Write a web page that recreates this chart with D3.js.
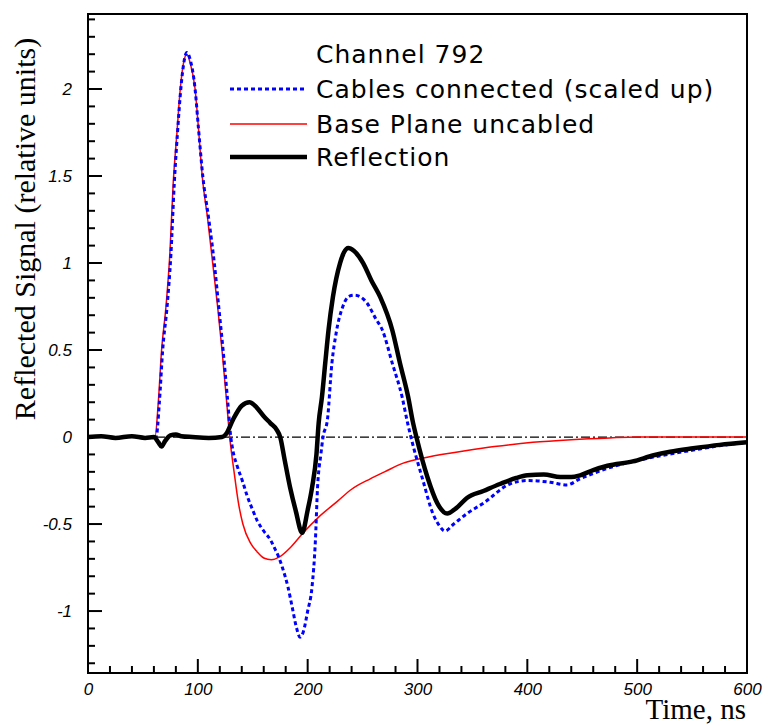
<!DOCTYPE html>
<html>
<head>
<meta charset="utf-8">
<script src="https://cdn.jsdelivr.net/npm/d3@7"></script>
<style>
  html, body { margin: 0; padding: 0; background: #fff; }
  svg { display: block; }
</style>
</head>
<body>
<div id="chart"></div>
<script>
// Channel 792 - reflected signal vs time (ns)

const xMajorTicks = [0, 100, 200, 300, 400, 500, 600];
const yMajorTicks = [-1, -0.5, 0, 0.5, 1, 1.5, 2];

const legendTitle = 'Channel 792';
const seriesNames = ['Cables connected (scaled up)', 'Base Plane uncabled', 'Reflection'];

// [time ns, signal]
const baseUncabled = [
  [0, 0], [30, 0], [61, 0], [64, 0.2], [67, 0.5], [71, 0.75], [74.5, 1.05], [77.5, 1.45],
  [81, 1.75], [84, 2.0], [87, 2.15], [90, 2.2], [93, 2.15], [97.5, 2.0], [100.5, 1.78],
  [104, 1.5], [109, 1.25], [113.5, 1.0], [118, 0.75], [122, 0.5], [126, 0.22], [129, 0],
  [133, -0.2], [137, -0.38], [141, -0.5], [148, -0.61], [154, -0.66], [160, -0.695],
  [167, -0.705], [174, -0.69], [185, -0.63], [196, -0.55], [210, -0.46], [227, -0.37],
  [240, -0.30], [257, -0.24], [270, -0.20], [287, -0.15], [310, -0.115], [345, -0.078],
  [370, -0.055], [405, -0.03], [440, -0.015], [475, -0.005], [500, 0], [600, 0]
];

const cablesConnected = [
  [60, 0], [62, 0], [65, 0.2], [68, 0.5], [72, 0.75], [75.5, 1.05], [78.5, 1.45],
  [81.5, 1.75], [84.5, 2.0], [87.5, 2.16], [90, 2.21], [93, 2.17], [97.5, 2.0],
  [100.5, 1.78], [104.5, 1.5], [110, 1.25], [115, 1.0], [119, 0.75], [123, 0.5],
  [127, 0.22], [130, 0], [132, -0.08], [136, -0.17], [141, -0.26], [145, -0.34],
  [150, -0.42], [154, -0.48], [160, -0.54], [166, -0.59], [170, -0.64], [173, -0.68],
  [177, -0.75], [182, -0.86], [186, -0.98], [190, -1.10], [193, -1.15], [196, -1.12],
  [200, -1.0], [204, -0.86], [207, -0.6], [209, -0.29], [212, -0.1], [214, 0],
  [218, 0.1], [222, 0.42], [226, 0.6], [232, 0.75], [238, 0.81], [243, 0.815],
  [254, 0.77], [262, 0.68], [268, 0.615], [277, 0.425], [286, 0.23], [291, 0.08],
  [294, 0], [305, -0.25], [314, -0.44], [320, -0.51], [325, -0.54], [333, -0.5],
  [345, -0.44], [360, -0.38], [384, -0.27], [400, -0.25], [421, -0.26], [436, -0.275],
  [448, -0.24], [473, -0.18], [496, -0.14], [515, -0.115], [551, -0.075], [575, -0.05],
  [600, -0.03]
];

const reflection = [
  [0, 0], [12, 0.005], [25, -0.005], [40, 0.005], [52, -0.005], [60, 0], [64, -0.03],
  [67, -0.055], [70, -0.025], [75, 0.01], [80, 0.015], [85, 0.005], [95, 0], [110, -0.005],
  [122, 0], [126, 0.02], [132, 0.1], [140, 0.18], [147, 0.2], [152, 0.18], [160, 0.12],
  [166, 0.08], [172, 0.04], [175, 0], [179, -0.13], [184, -0.29], [189, -0.42],
  [195, -0.55], [200, -0.42], [204, -0.29], [208, -0.1], [210, 0.08], [213, 0.23],
  [216, 0.425], [219, 0.615], [223, 0.805], [229.5, 1.0], [233, 1.06], [237, 1.086],
  [242, 1.07], [250.5, 1.0], [258, 0.9], [266, 0.805], [277, 0.615], [284, 0.425],
  [291.5, 0.23], [296, 0.08], [299, 0], [309, -0.23], [318, -0.38], [327, -0.44],
  [335, -0.41], [345, -0.35], [360, -0.31], [375, -0.27], [390, -0.235], [400, -0.22],
  [415, -0.215], [430, -0.23], [440, -0.23], [448, -0.22], [460, -0.19], [473, -0.165],
  [496, -0.14], [515, -0.105], [530, -0.085], [551, -0.065], [575, -0.045], [600, -0.03]
];

const width = 766;
const height = 725;
const margin = {top: 14, right: 19, bottom: 52, left: 88};

const svg = d3.select('#chart').append('svg')
  .attr('width', width)
  .attr('height', height);

const x = d3.scaleLinear().domain([0, 600]).range([margin.left, width - margin.right]);
const y = d3.scaleLinear().domain([-1.356, 2.431]).range([height - margin.bottom, margin.top]);

const line = d3.line()
  .curve(d3.curveMonotoneX)
  .x(function(d) { return x(d[0]); })
  .y(function(d) { return y(d[1]); });

// zero reference line
svg.append('path')
  .datum([[0, 0], [600, 0]])
  .attr('d', line)
  .attr('fill', 'none')
  .attr('stroke', '#000')
  .attr('stroke-width', 1.2)
  .attr('stroke-dasharray', '9,3,2,3');

svg.append('path')
  .datum(baseUncabled)
  .attr('d', line)
  .attr('fill', 'none')
  .attr('stroke', '#ff0000')
  .attr('stroke-width', 1.5);

svg.append('path')
  .datum(cablesConnected)
  .attr('d', line)
  .attr('fill', 'none')
  .attr('stroke', '#0000ff')
  .attr('stroke-width', 3)
  .attr('stroke-dasharray', '4,3');

svg.append('path')
  .datum(reflection)
  .attr('d', line)
  .attr('fill', 'none')
  .attr('stroke', '#000')
  .attr('stroke-width', 4.5)
  .attr('stroke-linejoin', 'round');

const fmt = function(d) { return String(d); };
const isMajorX = function(d) { return Math.abs(d % 100) < 1e-9; };
const isMajorY = function(d) { return Math.abs(d * 2 - Math.round(d * 2)) < 1e-9; };

const x0 = x(0);
const y0 = y(-1.356);

// tick marks (inside the frame)
svg.append('g').selectAll('line')
  .data(x.ticks(30))
  .join('line')
  .attr('x1', function(d) { return x(d); })
  .attr('x2', function(d) { return x(d); })
  .attr('y1', y0)
  .attr('y2', function(d) { return y0 - (isMajorX(d) ? 14 : 7); })
  .attr('stroke', '#000')
  .attr('stroke-width', 2);

svg.append('g').selectAll('line')
  .data(y.ticks(40))
  .join('line')
  .attr('y1', function(d) { return y(d); })
  .attr('y2', function(d) { return y(d); })
  .attr('x1', x0)
  .attr('x2', function(d) { return x0 + (isMajorY(d) ? 14 : 7); })
  .attr('stroke', '#000')
  .attr('stroke-width', 2);

// tick labels
const xAxis = d3.axisBottom(x).tickValues(xMajorTicks).tickSize(0).tickPadding(10).tickFormat(fmt);
const yAxis = d3.axisLeft(y).tickValues(yMajorTicks).tickSize(0).tickPadding(16).tickFormat(fmt);

svg.append('g').attr('class', 'axis').attr('transform', 'translate(0,' + y0 + ')').call(xAxis);
svg.append('g').attr('class', 'axis').attr('transform', 'translate(' + x0 + ',0)').call(yAxis);

svg.selectAll('.axis .domain').remove();
svg.selectAll('.axis .tick text')
  .attr('font-family', '"Liberation Sans", Arial, sans-serif')
  .attr('font-style', 'italic')
  .attr('font-size', 17)
  .attr('fill', '#000');

// frame
svg.append('rect')
  .attr('x', x0)
  .attr('y', y(2.431))
  .attr('width', x(600) - x0)
  .attr('height', y0 - y(2.431))
  .attr('fill', 'none')
  .attr('stroke', '#000')
  .attr('stroke-width', 2);

// axis titles
svg.append('text')
  .attr('transform', 'translate(35,229) rotate(-90)')
  .attr('text-anchor', 'middle')
  .attr('font-family', '"Liberation Serif", "Times New Roman", serif')
  .attr('font-size', 30)
  .text('Reflected Signal (relative units)');

svg.append('text')
  .attr('x', 746)
  .attr('y', 719)
  .attr('text-anchor', 'end')
  .attr('font-family', '"Liberation Serif", "Times New Roman", serif')
  .attr('font-size', 29)
  .text('Time, ns');

// legend
const legend = svg.append('g')
  .attr('font-family', '"DejaVu Sans", sans-serif')
  .attr('font-size', 25)
  .attr('letter-spacing', 1);

legend.append('text').attr('x', 316).attr('y', 63).text(legendTitle);

const legendStyles = [
  {color: '#0000ff', w: 3, dash: '4,3'},
  {color: '#ff0000', w: 1.5, dash: null},
  {color: '#000', w: 4.5, dash: null}
];
const legendY = [89, 124, 157];

seriesNames.forEach(function(name, i) {
  legend.append('line')
    .attr('x1', 230).attr('x2', 307)
    .attr('y1', legendY[i]).attr('y2', legendY[i])
    .attr('stroke', legendStyles[i].color)
    .attr('stroke-width', legendStyles[i].w)
    .attr('stroke-dasharray', legendStyles[i].dash);
  legend.append('text')
    .attr('x', 316)
    .attr('y', legendY[i] + 9)
    .text(name);
});
</script>
</body>
</html>
